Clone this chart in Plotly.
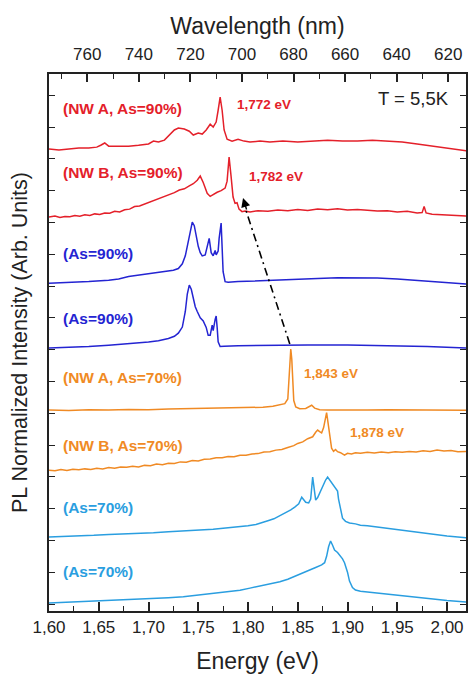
import plotly.graph_objects as go

# ---------------- data (energy in eV, stacked normalized PL intensity) ----------------
e_nwa90 = [1.600,1.610,1.620,1.630,1.640,1.648,1.652,1.656,1.660,1.670,1.680,1.690,1.700,1.705,1.710,1.716,
           1.721,1.726,1.730,1.736,1.741,1.745,1.750,1.754,1.758,1.762,1.765,1.768,1.770,1.772,1.774,1.776,
           1.779,1.784,1.790,1.796,1.802,1.812,1.822,1.835,1.850,1.865,1.880,1.895,1.910,1.925,1.940,1.955,
           1.970,1.985,2.000,2.020]
i_nwa90 = [14.31,14.28,14.31,14.34,14.34,14.37,14.43,14.50,14.40,14.40,14.40,14.43,14.47,14.56,14.53,14.59,
           14.75,14.91,14.97,14.94,14.87,14.75,14.81,14.78,14.91,15.09,15.00,15.16,15.53,15.94,15.53,14.91,
           14.62,14.56,14.62,14.56,14.53,14.56,14.53,14.56,14.53,14.56,14.59,14.56,14.56,14.59,14.56,14.53,
           14.47,14.40,14.34,14.25]

e_nwb90 = [1.600,1.606,1.611,1.616,1.621,1.626,1.631,1.636,1.641,1.646,1.651,1.656,1.661,1.666,1.671,1.676,
           1.681,1.686,1.691,1.696,1.701,1.706,1.711,1.716,1.721,1.726,1.731,1.736,1.741,1.745,1.749,1.752,
           1.755,1.759,1.762,1.765,1.769,1.773,1.777,1.779,1.781,1.783,1.785,1.787,1.789,1.791,1.794,1.797,
           1.802,1.810,1.820,1.830,1.840,1.850,1.860,1.870,1.880,1.890,1.900,1.910,1.920,1.930,1.940,1.950,
           1.960,1.970,1.975,1.977,1.979,1.985,1.995,2.005,2.020]
i_nwb90 = [12.17,12.20,12.16,12.19,12.18,12.22,12.20,12.24,12.22,12.27,12.25,12.30,12.29,12.35,12.33,12.40,
           12.42,12.50,12.52,12.58,12.62,12.70,12.74,12.82,12.86,12.94,13.02,13.06,13.15,13.22,13.33,13.46,
           13.26,12.92,12.82,12.88,12.95,13.00,13.08,13.30,14.06,13.45,12.80,12.60,12.62,12.42,12.34,12.36,
           12.33,12.37,12.35,12.39,12.37,12.41,12.38,12.42,12.40,12.43,12.39,12.41,12.38,12.36,12.37,12.33,
           12.35,12.30,12.31,12.50,12.30,12.26,12.24,12.22,12.20]

e_s90a = [1.600,1.620,1.640,1.660,1.670,1.680,1.690,1.700,1.710,1.715,1.720,1.725,1.730,1.734,1.737,1.740,
          1.742,1.744,1.746,1.748,1.750,1.752,1.754,1.757,1.759,1.761,1.763,1.765,1.767,1.768,1.770,1.771,
          1.773,1.774,1.775,1.777,1.780,1.790,1.810,1.830,1.850,1.870,1.890,1.910,1.930,1.950,1.970,1.990,
          2.005,2.020]
i_s90a = [10.09,10.11,10.14,10.18,10.22,10.30,10.34,10.38,10.42,10.44,10.47,10.50,10.55,10.70,10.95,11.40,
          11.80,12.01,11.90,11.55,11.25,11.05,10.95,10.98,11.20,11.50,11.05,10.95,11.12,10.98,11.10,11.50,
          11.98,11.30,10.45,10.14,10.12,10.14,10.17,10.20,10.22,10.24,10.26,10.26,10.25,10.22,10.18,10.13,
          10.10,10.06]

e_s90b = [1.600,1.620,1.640,1.660,1.680,1.700,1.710,1.720,1.726,1.730,1.734,1.737,1.739,1.741,1.743,1.745,
          1.747,1.749,1.752,1.755,1.758,1.760,1.762,1.764,1.765,1.767,1.768,1.769,1.770,1.772,1.776,1.790,
          1.820,1.860,1.900,1.940,1.980,2.020]
i_s90b = [8.05,8.07,8.10,8.14,8.18,8.24,8.28,8.35,8.42,8.52,8.71,9.20,9.75,10.03,9.90,9.60,
          9.35,9.20,9.00,8.90,8.70,8.45,8.45,8.77,8.60,8.95,9.06,8.70,8.25,8.10,8.11,8.12,
          8.14,8.15,8.15,8.13,8.10,8.05]

e_nwa70 = [1.600,1.620,1.640,1.660,1.680,1.700,1.720,1.740,1.760,1.780,1.800,1.815,1.825,1.832,1.837,1.840,
           1.841,1.842,1.843,1.844,1.845,1.846,1.848,1.852,1.858,1.862,1.864,1.867,1.872,1.880,1.900,1.920,
           1.940,1.960,1.980,2.000,2.020]
i_nwa70 = [6.10,6.09,6.11,6.10,6.12,6.11,6.13,6.14,6.15,6.16,6.17,6.19,6.22,6.26,6.30,6.45,
           7.10,7.80,8.02,7.70,6.90,6.40,6.20,6.14,6.15,6.20,6.25,6.16,6.11,6.10,6.09,6.10,
           6.11,6.10,6.11,6.10,6.09]

e_nwb70 = [1.600,1.606,1.612,1.618,1.624,1.630,1.636,1.642,1.648,1.654,1.660,1.666,1.672,1.678,1.684,1.690,
           1.696,1.702,1.708,1.714,1.720,1.726,1.732,1.738,1.744,1.750,1.756,1.762,1.768,1.774,1.780,1.786,
           1.792,1.798,1.804,1.810,1.816,1.822,1.828,1.834,1.840,1.846,1.850,1.855,1.860,1.865,1.868,1.870,
           1.872,1.874,1.876,1.878,1.879,1.880,1.882,1.884,1.886,1.888,1.890,1.893,1.897,1.900,1.904,1.908,
           1.913,1.920,1.927,1.934,1.941,1.948,1.955,1.962,1.969,1.976,1.983,1.990,1.997,2.004,2.011,2.020]
i_nwb70 = [4.21,4.19,4.23,4.20,4.24,4.22,4.25,4.23,4.27,4.25,4.29,4.27,4.31,4.30,4.33,4.31,
           4.36,4.35,4.40,4.38,4.43,4.42,4.47,4.46,4.51,4.50,4.55,4.56,4.60,4.60,4.64,4.63,
           4.68,4.68,4.72,4.73,4.78,4.79,4.84,4.86,4.92,4.98,5.05,5.10,5.20,5.26,5.40,5.47,
           5.42,5.38,5.55,5.90,6.02,5.80,5.25,4.90,4.80,4.86,4.79,4.76,4.68,4.74,4.72,4.76,
           4.74,4.77,4.75,4.78,4.76,4.79,4.77,4.80,4.78,4.82,4.80,4.84,4.81,4.83,4.79,4.80]

e_s70a = [1.600,1.615,1.630,1.645,1.660,1.675,1.690,1.705,1.720,1.735,1.750,1.765,1.780,1.790,1.800,1.808,
          1.815,1.820,1.826,1.832,1.838,1.843,1.847,1.851,1.854,1.856,1.858,1.861,1.863,1.865,1.867,1.868,
          1.870,1.872,1.875,1.878,1.880,1.882,1.884,1.886,1.888,1.890,1.891,1.893,1.895,1.898,1.902,1.908,
          1.913,1.920,1.930,1.940,1.953,1.965,1.975,1.986,2.000,2.020]
i_s70a = [2.11,2.12,2.15,2.16,2.19,2.20,2.23,2.24,2.27,2.29,2.33,2.35,2.40,2.42,2.46,2.50,
          2.56,2.62,2.68,2.78,2.86,2.96,3.05,3.15,3.36,3.28,3.20,3.18,3.30,3.99,3.40,3.27,
          3.35,3.49,3.70,3.90,3.99,3.90,3.82,3.74,3.62,3.55,3.30,2.95,2.70,2.60,2.55,2.52,
          2.48,2.46,2.42,2.38,2.32,2.27,2.23,2.18,2.14,2.08]

e_s70b = [1.600,1.615,1.630,1.645,1.660,1.675,1.690,1.705,1.720,1.735,1.750,1.765,1.780,1.792,1.802,1.812,
          1.822,1.832,1.840,1.848,1.855,1.862,1.868,1.874,1.877,1.879,1.881,1.883,1.885,1.887,1.890,1.892,
          1.895,1.897,1.900,1.902,1.905,1.908,1.913,1.920,1.930,1.940,1.953,1.965,1.975,1.986,2.000,2.020]
i_s70b = [0.03,0.05,0.07,0.09,0.11,0.12,0.15,0.17,0.20,0.23,0.28,0.32,0.38,0.43,0.50,0.56,
          0.62,0.70,0.78,0.88,0.96,1.07,1.15,1.23,1.30,1.50,1.80,1.98,1.85,1.70,1.62,1.54,
          1.42,1.30,1.00,0.72,0.52,0.44,0.40,0.38,0.35,0.32,0.28,0.24,0.20,0.16,0.11,0.06]

RED, BLUE, ORANGE, LBLUE = "#e4202a", "#2424d2", "#f08a24", "#2a9ee0"

series = [
    (e_nwa90, i_nwa90, RED), (e_nwb90, i_nwb90, RED),
    (e_s90a, i_s90a, BLUE), (e_s90b, i_s90b, BLUE),
    (e_nwa70, i_nwa70, ORANGE), (e_nwb70, i_nwb70, ORANGE),
    (e_s70a, i_s70a, LBLUE), (e_s70b, i_s70b, LBLUE),
]

sample_labels = ["(NW A, As=90%)", "(NW B, As=90%)", "(As=90%)", "(As=90%)",
                 "(NW A, As=70%)", "(NW B, As=70%)", "(As=70%)", "(As=70%)"]
sample_label_y = [15.60, 13.58, 11.01, 8.99, 7.11, 5.00, 3.02, 1.01]
sample_colors = [RED, RED, BLUE, BLUE, ORANGE, ORANGE, LBLUE, LBLUE]

peak_labels = ["1,772 eV", "1,782 eV", "1,843 eV", "1,878 eV"]
peak_label_x = [1.787, 1.799, 1.854, 1.9005]
peak_label_y = [15.72, 13.46, 7.26, 5.41]
peak_colors = [RED, RED, ORANGE, ORANGE]

energy_range = [1.60, 2.0191]
wavelength_range = [774.85, 613.1]
y_range = [-0.22, 16.67]

arrow_tail = (1.842, 8.18)
arrow_tip = (1.795, 12.77)

FONT = "Liberation Sans, Arial, sans-serif"

fig = go.Figure()
for e, i, c in series:
    fig.add_trace(go.Scatter(x=e, y=i, mode="lines", line=dict(color=c, width=1.5),
                             showlegend=False, hoverinfo="skip"))
# helper trace to register the top wavelength axis
fig.add_trace(go.Scatter(x=wavelength_range, y=[None, None], xaxis="x2", yaxis="y",
                         mode="lines", showlegend=False, hoverinfo="skip"))

for txt, yy, c in zip(sample_labels, sample_label_y, sample_colors):
    fig.add_annotation(x=1.6118, y=yy, text="<b>%s</b>" % txt, showarrow=False, xanchor="left",
                       yanchor="middle", font=dict(family=FONT, size=15.5, color=c))
for txt, xx, yy, c in zip(peak_labels, peak_label_x, peak_label_y, peak_colors):
    fig.add_annotation(x=xx, y=yy, text="<b>%s</b>" % txt, showarrow=False, xanchor="left",
                       yanchor="middle", font=dict(family=FONT, size=13.5, color=c))

fig.add_annotation(x=0.963, y=0.955, xref="paper", yref="paper", text="T = 5,5K", showarrow=False,
                   xanchor="right", yanchor="middle", font=dict(family=FONT, size=18.5, color="#222"))

# dash-dot arrow
fig.add_shape(type="line", x0=arrow_tail[0], y0=arrow_tail[1], x1=arrow_tip[0] + 0.002, y1=arrow_tip[1] - 0.3,
              line=dict(color="black", width=1.6, dash="8px,4px,2px,4px"))
fig.add_annotation(x=arrow_tip[0], y=arrow_tip[1], ax=4, ay=13, text="", showarrow=True,
                   arrowhead=2, arrowsize=1.3, arrowwidth=1.4, arrowcolor="black")

tickfont = dict(family=FONT, size=17, color="#222")

fig.update_layout(
    width=468, height=674, template="none",
    margin=dict(l=49, r=2, t=74, b=63),
    paper_bgcolor="white", plot_bgcolor="white",
    separators=", ",
    showlegend=False,
    xaxis=dict(range=energy_range, tick0=1.60, dtick=0.05, tickformat=".2f",
               ticks="inside", ticklen=9, tickwidth=1.5, tickcolor="#222",
               minor=dict(ticks="inside", ticklen=5, dtick=0.025, tickwidth=1.2, tickcolor="#222"),
               showline=True, linecolor="#222", linewidth=1.8, mirror=False,
               showgrid=False, zeroline=False, tickfont=tickfont, automargin=False,
               title=dict(text="Energy (eV)", font=dict(family=FONT, size=23, color="#222"), standoff=18)),
    xaxis2=dict(overlaying="x", side="top", range=wavelength_range, tick0=620, dtick=20,
                ticks="inside", ticklen=8, tickwidth=1.5, tickcolor="#222",
                minor=dict(ticks="inside", ticklen=5, dtick=10, tickwidth=1.2, tickcolor="#222"),
                showline=True, linecolor="#222", linewidth=1.8, ticklabelstandoff=5,
                showgrid=False, zeroline=False, tickfont=tickfont, automargin=False,
                title=dict(text="Wavelength (nm)", font=dict(family=FONT, size=23, color="#222"), standoff=4)),
    yaxis=dict(range=y_range, tick0=0, dtick=1, ticks="inside", ticklen=6, tickwidth=1.3,
               tickcolor="#222", showticklabels=False, showline=True, linecolor="#222",
               linewidth=1.8, mirror="ticks", showgrid=False, zeroline=False, automargin=False,
               title=dict(text="PL Normalized Intensity (Arb. Units)",
                          font=dict(family=FONT, size=21.5, color="#222"), standoff=14)),
)

fig.write_html("out.html", config={"displayModeBar": False},
               post_script="document.body.style.margin='0px';")
